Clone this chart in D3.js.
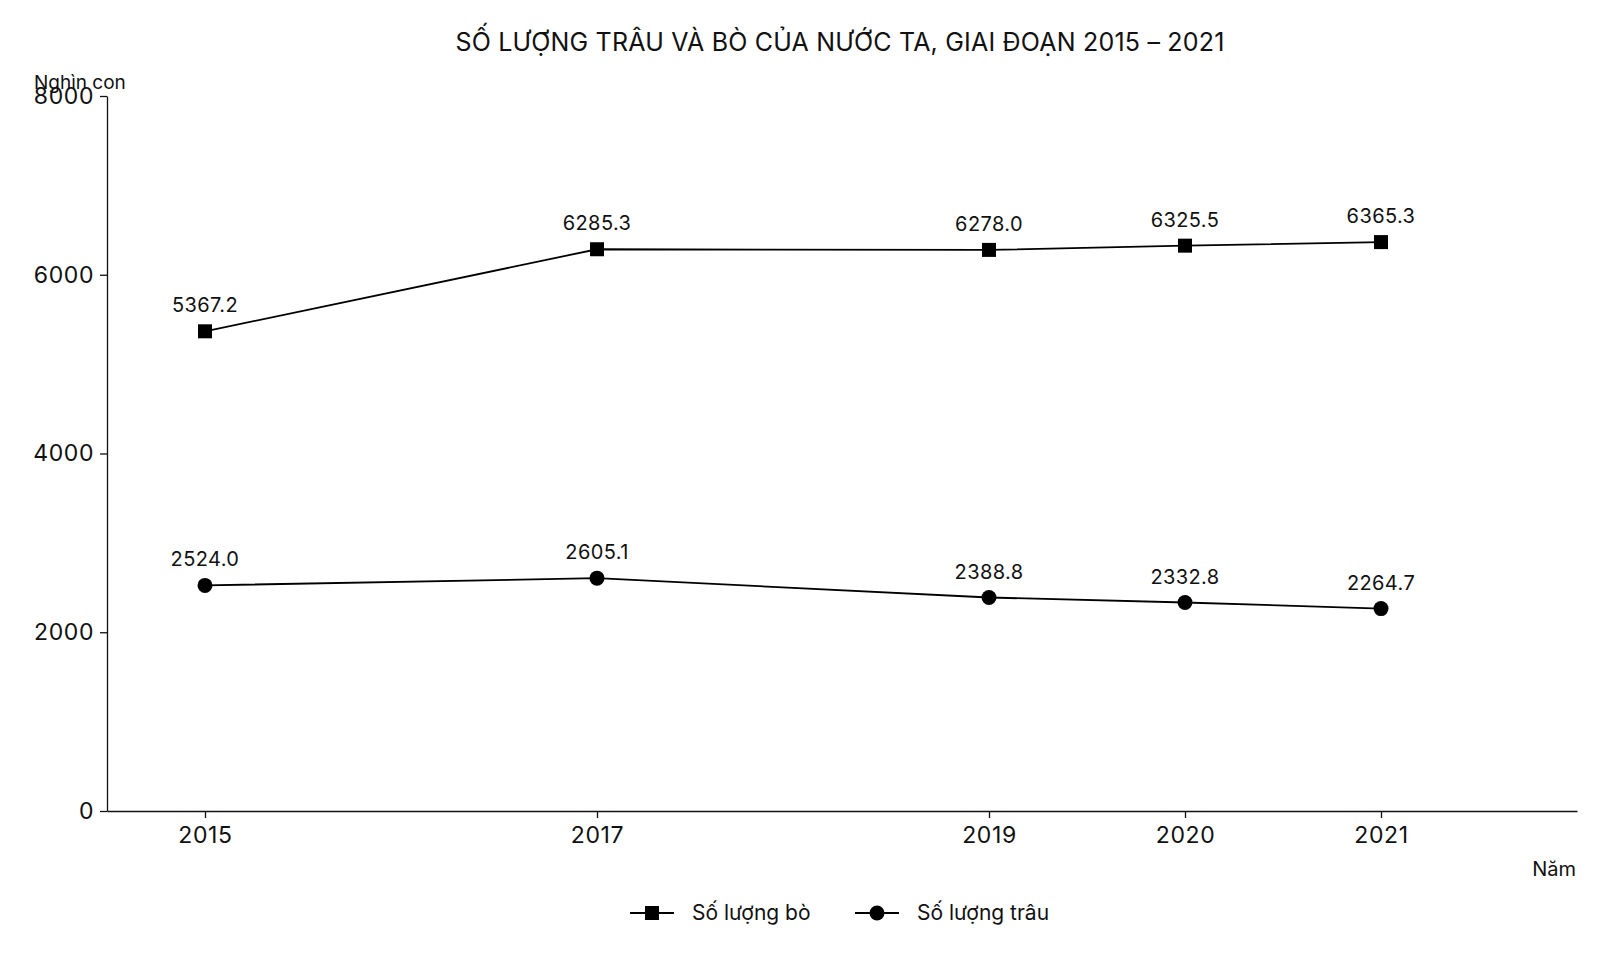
<!DOCTYPE html>
<html>
<head>
<meta charset="utf-8">
<script src="https://cdn.jsdelivr.net/npm/d3@7"></script>
<style>
  body { margin: 0; background: #fff; }
  svg text { font-family: Inter, "Open Sans", sans-serif; fill: #111; }
</style>
</head>
<body>
<div id="chart"></div>
<script>
let years = [2015, 2017, 2019, 2020, 2021]
let bo = [5367.2, 6285.3, 6278.0, 6325.5, 6365.3]
let trau = [2524.0, 2605.1, 2388.8, 2332.8, 2264.7]
let yTicks = [0, 2000, 4000, 6000, 8000]
let title = "SỐ LƯỢNG TRÂU VÀ BÒ CỦA NƯỚC TA, GIAI ĐOẠN 2015 – 2021"
let seriesNames = ["Số lượng bò", "Số lượng trâu"]

let width = 1600, height = 960
let margin = {top: 96, bottom: 149, left: 107, right: 23}

let svg = d3.select("#chart").append("svg")
  .attr("width", width)
  .attr("height", height)

let xScale = d3.scaleLinear().domain([2014.5, 2022]).range([margin.left, width - margin.right])
let yScale = d3.scaleLinear().domain([0, 8000]).range([height - margin.bottom, margin.top])

// axes
let xAxis = svg.append("g")
  .attr("transform", "translate(0," + (height - margin.bottom) + ")")
  .call(d3.axisBottom(xScale).tickValues(years).tickFormat(d3.format("d")).tickSize(7).tickSizeOuter(0))
xAxis.select(".domain").attr("stroke", "#111").attr("stroke-width", 1.3)
xAxis.selectAll(".tick line").attr("stroke", "#111").attr("stroke-width", 1.3)
xAxis.selectAll(".tick text").attr("font-size", 23).attr("letter-spacing", 0.6).attr("dy", "0.95em")

let yAxis = svg.append("g")
  .attr("transform", "translate(" + margin.left + ",0)")
  .call(d3.axisLeft(yScale).tickValues(yTicks).tickFormat(d3.format("d")).tickSize(7).tickSizeOuter(0))
yAxis.select(".domain").attr("stroke", "#111").attr("stroke-width", 1.3)
yAxis.selectAll(".tick text").attr("font-size", 23).attr("letter-spacing", 0.6).attr("x", -13)
yAxis.selectAll(".tick line").attr("stroke", "#111").attr("stroke-width", 1.3)

svg.append("text")
  .attr("x", 34).attr("y", 89)
  .attr("font-size", 19)
  .text("Nghìn con")

svg.append("text")
  .attr("x", 1576).attr("y", 876)
  .attr("text-anchor", "end")
  .attr("font-size", 20)
  .text("Năm")

svg.append("text")
  .attr("x", 840).attr("y", 51)
  .attr("text-anchor", "middle")
  .attr("font-size", 25)
  .attr("letter-spacing", 0.2)
  .text(title)

let line = d3.line()
  .x((d, i) => xScale(years[i]))
  .y(d => yScale(d))

let series = [bo, trau]
series.forEach((vals, s) => {
  svg.append("path")
    .datum(vals)
    .attr("d", line)
    .attr("fill", "none")
    .attr("stroke", "#000")
    .attr("stroke-width", 1.8)

  let g = svg.append("g")
  if (s == 0) {
    g.selectAll("rect").data(vals).join("rect")
      .attr("x", (d, i) => xScale(years[i]) - 7)
      .attr("y", d => yScale(d) - 7)
      .attr("width", 14).attr("height", 14)
      .attr("fill", "#000")
  } else {
    g.selectAll("circle").data(vals).join("circle")
      .attr("cx", (d, i) => xScale(years[i]))
      .attr("cy", d => yScale(d))
      .attr("r", 7.5)
      .attr("fill", "#000")
  }
  g.selectAll("text").data(vals).join("text")
    .attr("x", (d, i) => xScale(years[i]))
    .attr("y", d => yScale(d) - 19)
    .attr("text-anchor", "middle")
    .attr("font-size", 20)
    .attr("letter-spacing", 0.4)
    .text(d => d3.format(".1f")(d))
})

// legend
let legend = svg.append("g").attr("transform", "translate(0,913)")
let legX = [630, 855]
seriesNames.forEach((name, i) => {
  let lg = legend.append("g").attr("transform", "translate(" + legX[i] + ",0)")
  lg.append("line").attr("x1", 0).attr("x2", 44).attr("y1", 0).attr("y2", 0)
    .attr("stroke", "#000").attr("stroke-width", 1.8)
  if (i == 0) {
    lg.append("rect").attr("x", 15).attr("y", -7).attr("width", 14).attr("height", 14).attr("fill", "#000")
  } else {
    lg.append("circle").attr("cx", 22).attr("cy", 0).attr("r", 7.5).attr("fill", "#000")
  }
  lg.append("text").attr("x", 62).attr("y", 0).attr("dy", "0.35em")
    .attr("font-size", 21).text(name)
})
</script>
</body>
</html>
